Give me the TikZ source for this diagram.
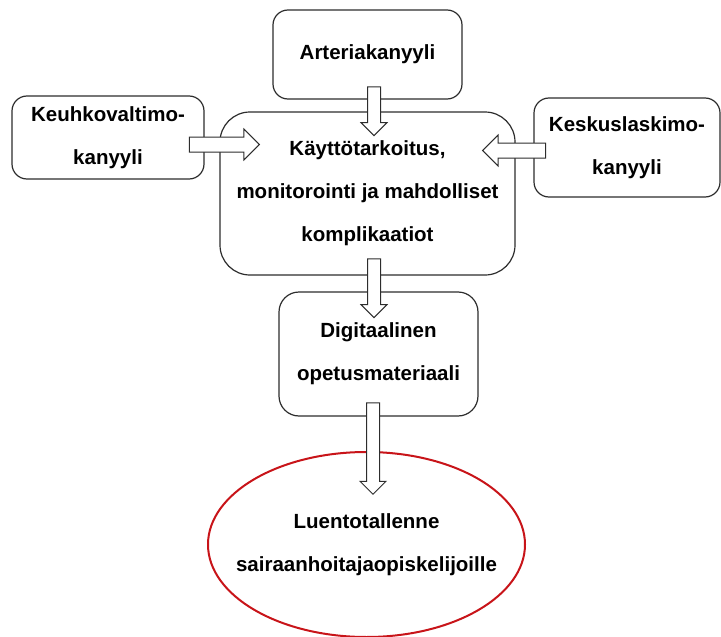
\documentclass[tikz,border=0pt]{standalone}
\usepackage{fontspec}
\setmainfont{Liberation Sans}
\usetikzlibrary{positioning,calc,shapes.geometric,shapes.arrows}
\definecolor{boxcolor}{RGB}{45,45,45}
\definecolor{ovalcolor}{RGB}{200,20,25}
% hollow block arrow between two points
\newcommand{\blockarrow}[3][]{%
  \path let \p1=($(#3)-(#2)$) in (#2) -- (#3)
    node[arrowbox,#1,minimum height={veclen(\x1,\y1)}] {};}

\begin{document}
\begin{tikzpicture}[x=1pt,y=1pt,
    every node/.style={font=\fontsize{20.5}{43}\selectfont\bfseries,text=black},
    box/.style={draw=boxcolor,line width=1.2pt,rounded corners=15pt,align=center,inner sep=0pt},
    oval/.style={ellipse,draw=ovalcolor,line width=2pt,inner sep=0pt},
    arrowbox/.style={single arrow,draw=boxcolor,fill=white,line width=1pt,
      inner xsep=0pt,inner ysep=6pt,single arrow head extend=6.5pt,single arrow head indent=0pt,
      allow upside down,sloped,midway},
    sidearrow/.style={inner ysep=7pt,single arrow head extend=8pt}]
  \useasboundingbox (0,0) rectangle (721,-637);

  % sources
  \node[box,minimum width=189pt,minimum height=89pt] (art) at (367.5,-54.5) {Arteriakanyyli};
  \node[box,minimum width=192pt,minimum height=83pt] (keuh) at (108,-137.5) {Keuhkovaltimo-\\kanyyli};
  \node[box,minimum width=186pt,minimum height=99pt] (kesk) at (627,-147.5) {Keskuslaskimo-\\kanyyli};

  % centre
  \node[box,rounded corners=30pt,minimum width=295pt,minimum height=163pt] (kayt) at (367.5,-193.5)
    {Käyttötarkoitus,\\monitorointi ja mahdolliset\\komplikaatiot};
  \node[box,rounded corners=20pt,minimum width=199pt,minimum height=124pt] (digi) at (378.5,-354)
    {Digitaalinen\\opetusmateriaali};

  % result
  \node[oval,minimum width=317pt,minimum height=185pt,
    label={[align=center]center:Luentotallenne\\sairaanhoitajaopiskelijoille}] (luento) at (366.5,-544.5) {};

  % arrow ends
  \coordinate (artout) at ($(art.south)+(6.5,16)$);
  \coordinate (kaytin) at ($(kayt.north)+(6.5,-21)$);
  \coordinate (keuhout) at ($(keuh.east)+(-19,-7)$);
  \coordinate (keuhin) at ($(keuh.east)+(51,-7)$);
  \coordinate (keskout) at ($(kesk.west)+(16,-3)$);
  \coordinate (keskin) at ($(kesk.west)+(-47,-3)$);
  \coordinate (kaytout) at ($(kayt.south)+(6.5,20)$);
  \coordinate (digiin) at ($(digi.north)+(-4.5,-23)$);
  \coordinate (digiout) at ($(digi.south)+(-5.5,17)$);
  \coordinate (luentoin) at ($(luento.north)+(6.5,-40)$);

  % block arrows
  \blockarrow{artout}{kaytin}
  \blockarrow[sidearrow]{keuhout}{keuhin}
  \blockarrow[sidearrow]{keskout}{keskin}
  \blockarrow{kaytout}{digiin}
  \blockarrow{digiout}{luentoin}
\end{tikzpicture}
\end{document}
